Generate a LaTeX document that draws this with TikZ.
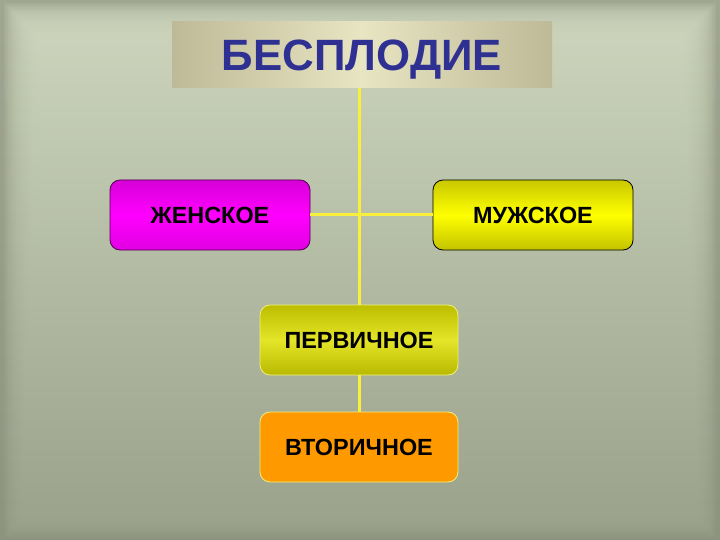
\documentclass[tikz,border=0pt]{standalone}
\usepackage{fontspec}
\setmainfont{Liberation Sans}
\begin{document}
\begin{tikzpicture}[x=1bp,y=-1bp,
  box/.style={rounded corners=10bp,minimum width=200bp,minimum height=70bp,
    font=\fontsize{23.5}{26}\selectfont\bfseries,text=black,inner sep=0pt,
    text depth=0pt,line width=0.8bp},
  link/.style={draw={rgb,255:red,248;green,240;blue,60},line width=3bp}]
\definecolor{bgtop}{RGB}{208,217,192}
\definecolor{bgbot}{RGB}{162,169,147}
\definecolor{frtop}{RGB}{160,166,145}
\definecolor{frbot}{RGB}{140,147,126}
\useasboundingbox (0,0) rectangle (720,540);
% background with soft bevelled frame
\shade[top color=frtop,bottom color=frbot] (0,0) rectangle (720,540);
\foreach \i in {4,6,...,40}{
  \shade[top color=bgtop,bottom color=bgbot,opacity=0.16] (\i,\i) rectangle (720-\i,540-\i);
}
% title
\node[minimum width=380bp,minimum height=66bp,inner sep=0pt,text depth=0pt,
  left color={rgb,255:red,190;green,185;blue,150},
  right color={rgb,255:red,190;green,185;blue,150},
  middle color={rgb,255:red,232;green,229;blue,195},
  font=\fontsize{44}{48}\selectfont\bfseries,
  text={rgb,255:red,46;green,49;blue,146}] (title) at (362,55) {БЕСПЛОДИЕ};
% boxes
\node[box,draw={rgb,255:red,80;green,0;blue,80},
  top color={rgb,255:red,215;green,0;blue,215},
  bottom color={rgb,255:red,225;green,0;blue,225},
  middle color={rgb,255:red,255;green,0;blue,255}] (f) at (210,215) {ЖЕНСКОЕ};
\node[box,draw=black,
  top color={rgb,255:red,200;green,200;blue,0},
  bottom color={rgb,255:red,195;green,195;blue,0},
  middle color={rgb,255:red,255;green,255;blue,0}] (m) at (533,215) {МУЖСКОЕ};
\node[box,minimum width=198bp,draw={rgb,255:red,240;green,240;blue,120},
  top color={rgb,255:red,190;green,190;blue,0},
  bottom color={rgb,255:red,185;green,185;blue,0},
  middle color={rgb,255:red,228;green,228;blue,40}] (p) at (359,340) {ПЕРВИЧНОЕ};
\node[box,minimum width=198bp,draw={rgb,255:red,240;green,240;blue,120},
  fill={rgb,255:red,255;green,153;blue,0}] (s) at (359,447) {ВТОРИЧНОЕ};
% connectors
\draw[link] (p.north) -- (p.north |- title.south);
\draw[link] (f.east) -- (m.west);
\draw[link] (p.south) -- (s.north);
\end{tikzpicture}
\end{document}
